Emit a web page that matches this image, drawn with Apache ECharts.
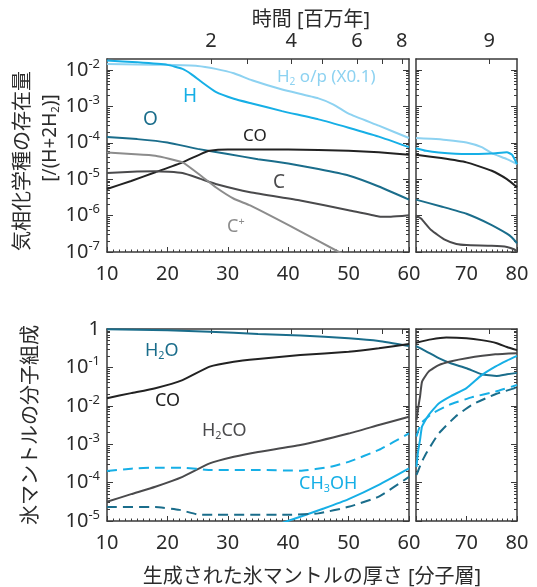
<!DOCTYPE html>
<html>
<head>
<meta charset="utf-8">
<script src="https://cdn.jsdelivr.net/npm/echarts@6/dist/echarts.min.js"></script>
<style>
  html, body { margin: 0; padding: 0; background: #fff; }
  #chart { width: 537px; height: 587px; }
</style>
</head>
<body>
<div id="chart"></div>
<script>
// ---- gas phase (top row), x = ice thickness [layers] ----
const h2opX = [10, 15, 20, 25, 28, 31, 34, 39, 45, 47.5, 50, 55, 60];
const h2opY = [1.45e-2, 1.41e-2, 1.38e-2, 1.29e-2, 1.07e-2, 8.1e-3, 5.2e-3, 2.9e-3, 1.66e-3, 1.12e-3, 6.3e-4, 2.95e-4, 1.35e-4];
const hX = [10, 15, 20, 22.5, 24, 25.5, 28, 31, 34, 39, 45, 50, 55, 60];
const hY = [1.82e-2, 1.62e-2, 1.38e-2, 1.07e-2, 7.6e-3, 4.9e-3, 2.5e-3, 1.62e-3, 1.2e-3, 7.4e-4, 4.4e-4, 2.6e-4, 1.48e-4, 7.6e-5];
const oX = [10, 15, 20, 25, 30, 35, 40, 45, 50, 55, 60];
const oY = [1.45e-4, 1.26e-4, 1.02e-4, 6.8e-5, 4.9e-5, 3.55e-5, 2.7e-5, 1.9e-5, 1.26e-5, 6.3e-6, 2.75e-6];
const coX = [10, 14, 18, 22.5, 25.5, 27, 30, 40, 50, 55, 60];
const coY = [5.4e-6, 8.9e-6, 1.55e-5, 2.9e-5, 4.9e-5, 6.0e-5, 6.5e-5, 6.5e-5, 6.0e-5, 5.5e-5, 4.7e-5];
const cX = [10, 15, 18, 22.5, 25.5, 28, 33.7, 42, 50, 55, 57, 60];
const cY = [1.48e-5, 1.62e-5, 1.66e-5, 1.48e-5, 1.02e-5, 7.4e-6, 4.4e-6, 2.6e-6, 1.41e-6, 9.5e-7, 9.3e-7, 1.02e-6];
const cpX = [10, 14, 18, 22.5, 25.5, 28, 31, 33.7, 42, 48.4, 50];
const cpY = [5.4e-5, 4.9e-5, 4.4e-5, 2.9e-5, 1.26e-5, 6.0e-6, 2.9e-6, 1.9e-6, 3.7e-7, 1e-7, 7e-8];

const h2opX2 = [60, 63, 66, 70, 73, 75, 78, 80];
const h2opY2 = [1.35e-4, 1.29e-4, 1.2e-4, 1.02e-4, 7.6e-5, 5.2e-5, 3.55e-5, 2.6e-5];
const hX2 = [60, 62, 64.5, 70, 75, 78, 79, 80];
const hY2 = [7.1e-5, 6.0e-5, 5.4e-5, 4.9e-5, 5.1e-5, 5.5e-5, 4.7e-5, 2.6e-5];
const coX2 = [60, 65, 70, 75, 78, 80];
const coY2 = [4.7e-5, 3.8e-5, 2.9e-5, 1.7e-5, 1.0e-5, 6.0e-6];
const oX2 = [60, 65, 70, 75, 78, 79, 80];
const oY2 = [2.75e-6, 1.78e-6, 1.12e-6, 5.5e-7, 3.2e-7, 2.5e-7, 1.74e-7];
const cX2 = [60, 61, 63, 65.8, 68, 70, 75, 78, 79.5, 80];
const cY2 = [1.02e-6, 8.3e-7, 4.0e-7, 2.14e-7, 1.66e-7, 1.55e-7, 1.48e-7, 1.38e-7, 1.17e-7, 1.0e-7];

// ---- ice mantle (bottom row) ----
const h2oX = [10, 20, 27, 35, 42, 50, 55, 60];
const h2oY = [0.98, 0.93, 0.85, 0.74, 0.68, 0.575, 0.49, 0.36];
const coIceX = [10, 14, 18, 22.5, 27, 31, 35, 42, 50, 55, 60];
const coIceY = [0.0158, 0.0214, 0.0288, 0.0468, 0.105, 0.141, 0.166, 0.209, 0.257, 0.316, 0.407];
const h2coX = [10, 14, 18, 22.5, 27, 31, 35, 42, 50, 55, 60];
const h2coY = [3.16e-5, 5.0e-5, 7.8e-5, 1.41e-4, 3.16e-4, 4.7e-4, 6.3e-4, 9.5e-4, 1.9e-3, 3.16e-3, 5.2e-3];
const meohX = [38, 42, 46, 50, 55, 60];
const meohY = [7.9e-6, 1.29e-5, 2.14e-5, 3.7e-5, 8.7e-5, 2.34e-4];
const dashLX = [10, 14, 18, 22.5, 27, 35, 42, 47, 50, 55, 60];
const dashLY = [2.0e-4, 2.3e-4, 2.45e-4, 2.45e-4, 2.14e-4, 2.14e-4, 2.04e-4, 2.57e-4, 3.47e-4, 7.1e-4, 1.9e-3];
const dashDX = [10, 18, 22, 25, 27, 40, 45, 50, 55, 60];
const dashDY = [2.3e-5, 2.3e-5, 1.95e-5, 1.48e-5, 1.45e-5, 1.45e-5, 1.58e-5, 2.34e-5, 4.3e-5, 1.41e-4];

const h2oX2 = [60, 62, 64.5, 67, 70, 73, 76, 78, 80];
const h2oY2 = [0.36, 0.263, 0.174, 0.126, 0.095, 0.066, 0.060, 0.066, 0.072];
const coIceX2 = [60, 63, 66, 70, 73, 76, 78, 80];
const coIceY2 = [0.437, 0.537, 0.60, 0.575, 0.513, 0.427, 0.339, 0.282];
const h2coX2 = [60.1, 60.5, 60.8, 61.2, 62.5, 64.5, 67, 70, 75.7, 80];
const h2coY2 = [4.3e-3, 0.01, 0.0174, 0.0427, 0.0776, 0.115, 0.145, 0.174, 0.219, 0.234];
const meohX2 = [60.1, 60.4, 60.8, 61.2, 62.5, 64.5, 67, 70, 73, 75.7, 78, 80];
const meohY2 = [2.57e-4, 6.3e-4, 1.29e-3, 2.9e-3, 5.75e-3, 0.0115, 0.0182, 0.0288, 0.063, 0.105, 0.151, 0.20];
const dashLX2 = [60.1, 61, 63.2, 66.5, 71, 75.7, 80];
const dashLY2 = [1.58e-3, 3.47e-3, 6.3e-3, 0.0105, 0.0166, 0.0234, 0.0347];
const dashDX2 = [60.1, 61, 62, 64.5, 67.8, 71, 75.7, 80];
const dashDY2 = [1.58e-4, 3.16e-4, 5.75e-4, 1.9e-3, 5.2e-3, 0.0105, 0.02, 0.030];

// top time axis [Myr]: tick positions in layer units, and labels
const timeTickPos = [27.2, 33.3, 40.5, 45.6, 51.4, 55.5, 58.8];
const timeLabelPos = [27.2, 40.5, 51.4, 58.8];
const timeLabels = ['2', '4', '6', '8'];
const timeTickPos2 = [74.5];
const timeLabels2 = ['9'];

const gasDecades = [1e-7, 1e-6, 1e-5, 1e-4, 1e-3, 1e-2];
const iceDecades = [1e-5, 1e-4, 1e-3, 1e-2, 1e-1, 1];

const FONT = "'Noto Sans', 'Noto Sans CJK JP', sans-serif";
const AX = '#3a3a3a';
const TXT = '#2b2b2b';

function minorsOf(decades) {
  const out = [];
  decades.slice(0, -1).forEach(d => {
    for (let k = 2; k <= 9; k++) out.push(+(d * k).toPrecision(3));
  });
  return out;
}

function zip(xs, ys) { return xs.map((x, i) => [x, ys[i]]); }

const grids = [
  { left: 107, top: 59, width: 302, height: 193 },
  { left: 416, top: 59, width: 101, height: 193 },
  { left: 107, top: 329, width: 302, height: 192 },
  { left: 416, top: 329, width: 101, height: 192 }
].map(g => Object.assign({ outerBoundsMode: 'none', containLabel: false }, g));

function powLabel(value) {
  const e = Math.round(Math.log10(value));
  if (e === 0) return '{b|1}';
  return '{b|10}{s|' + e + '}';
}

const labelRich = {
  b: { fontSize: 20, fontFamily: FONT, color: TXT },
  s: { fontSize: 13, fontFamily: FONT, color: TXT, padding: [0, 0, 12, 0] }
};

const xAxis = [];
const yAxis = [];
grids.forEach((g, gi) => {
  const right = gi % 2 === 1;
  const topRow = gi < 2;
  xAxis.push({
    gridIndex: gi, type: 'value', position: 'bottom',
    min: right ? 60 : 10, max: right ? 80 : 60, interval: 10,
    axisLine: { lineStyle: { color: AX, width: 1.5 } },
    axisTick: { inside: true, length: 5, lineStyle: { color: AX } },
    minorTick: { show: true, splitNumber: 10, length: 2.5, lineStyle: { color: AX } },
    splitLine: { show: false },
    axisLabel: {
      margin: 12, fontSize: 20, fontFamily: FONT, color: TXT,
      formatter: v => (right && v === 60) ? '' : String(v)
    }
  });
  xAxis.push({
    gridIndex: gi, type: 'value', position: 'top',
    min: right ? 60 : 10, max: right ? 80 : 60,
    axisLine: { lineStyle: { color: AX, width: 1.5 } },
    axisTick: { inside: true, length: 5, lineStyle: { color: AX }, customValues: right ? timeTickPos2 : timeTickPos },
    splitLine: { show: false },
    axisLabel: {
      show: topRow, margin: 8, fontSize: 20, fontFamily: FONT, color: TXT,
      customValues: right ? timeTickPos2 : timeLabelPos,
      formatter: v => right ? timeLabels2[0] : (timeLabels[timeLabelPos.indexOf(v)] || '')
    }
  });
  const dec = topRow ? gasDecades : iceDecades;
  const ymin = topRow ? 1e-7 : 1e-5;
  const ymax = topRow ? 0.02 : 1;
  ['left', 'right'].forEach(pos => {
    yAxis.push({
      gridIndex: gi, type: 'log', logBase: 10, position: pos, min: ymin, max: ymax,
      axisLine: { show: true, lineStyle: { color: AX, width: 1.5 } },
      axisTick: { inside: true, length: 6, lineStyle: { color: AX }, customValues: dec },
      splitLine: { show: false },
      axisLabel: {
        show: pos === 'left' && !right, margin: 7, customValues: dec,
        formatter: powLabel, rich: labelRich
      }
    });
    yAxis.push({
      gridIndex: gi, type: 'log', logBase: 10, position: pos, min: ymin, max: ymax,
      axisLine: { show: false },
      axisTick: { inside: true, length: 3, lineStyle: { color: AX }, customValues: minorsOf(dec) },
      splitLine: { show: false },
      axisLabel: { show: false }
    });
  });
});

function line(gi, xs, ys, color, width, dashed) {
  return {
    type: 'line', xAxisIndex: gi * 2, yAxisIndex: gi * 4,
    data: zip(xs, ys), showSymbol: false, smooth: 0.15, clip: true,
    lineStyle: { color: color, width: width || 2, type: dashed ? [10, 6] : 'solid' },
    silent: true, animation: false
  };
}

const C_LIGHT = '#8dd2f1';
const C_BLUE = '#16afe6';
const C_TEAL = '#1a6d8b';
const C_BLACK = '#222222';
const C_DGRAY = '#4a4a4c';
const C_GRAY = '#8c8c8c';

const series = [
  line(0, h2opX, h2opY, C_LIGHT), line(0, hX, hY, C_BLUE), line(0, oX, oY, C_TEAL),
  line(0, coX, coY, C_BLACK), line(0, cX, cY, C_DGRAY), line(0, cpX, cpY, C_GRAY),
  line(1, h2opX2, h2opY2, C_LIGHT), line(1, hX2, hY2, C_BLUE), line(1, oX2, oY2, C_TEAL),
  line(1, coX2, coY2, C_BLACK), line(1, cX2, cY2, C_DGRAY),
  line(2, h2oX, h2oY, C_TEAL), line(2, coIceX, coIceY, C_BLACK), line(2, h2coX, h2coY, C_DGRAY),
  line(2, meohX, meohY, C_BLUE), line(2, dashLX, dashLY, C_BLUE, 2, true), line(2, dashDX, dashDY, C_TEAL, 2, true),
  line(3, h2oX2, h2oY2, C_TEAL), line(3, coIceX2, coIceY2, C_BLACK), line(3, h2coX2, h2coY2, C_DGRAY),
  line(3, meohX2, meohY2, C_BLUE), line(3, dashLX2, dashLY2, C_BLUE, 2, true), line(3, dashDX2, dashDY2, C_TEAL, 2, true)
];

// rich styles for graphic text use zrender's `fill`
function subRich(color, size) {
  return {
    n: { fontSize: size, fontFamily: FONT, fill: color },
    d: { fontSize: size * 0.6, fontFamily: FONT, fill: color, padding: [size * 0.55, 0, 0, 0] },
    u: { fontSize: size * 0.6, fontFamily: FONT, fill: color, padding: [0, 0, size * 0.55, 0] }
  };
}

function tag(x, y, text, color, size, align) {
  return {
    type: 'text', x: x, y: y, silent: true,
    style: { text: text, rich: subRich(color, size || 18), fill: color, textAlign: align || 'left', textVerticalAlign: 'middle' }
  };
}

const graphic = [
  { type: 'text', x: 311, y: 20, silent: true,
    style: { text: '時間 [百万年]', font: '20px ' + FONT, fill: TXT, textAlign: 'center', textVerticalAlign: 'middle' } },
  { type: 'text', x: 23, y: 161, rotation: Math.PI / 2, silent: true,
    style: { text: '気相化学種の存在量', font: '20px ' + FONT, fill: TXT, textAlign: 'center', textVerticalAlign: 'middle' } },
  { type: 'text', x: 51, y: 138, rotation: Math.PI / 2, silent: true,
    style: { text: '{n|[/(H+2H}{d|2}{n|)]}', rich: subRich(TXT, 19), fill: TXT, textAlign: 'center', textVerticalAlign: 'middle' } },
  { type: 'text', x: 31, y: 425, rotation: Math.PI / 2, silent: true,
    style: { text: '氷マントルの分子組成', font: '20px ' + FONT, fill: TXT, textAlign: 'center', textVerticalAlign: 'middle' } },
  { type: 'text', x: 312, y: 577, silent: true,
    style: { text: '生成された氷マントルの厚さ [分子層]', font: '20px ' + FONT, fill: TXT, textAlign: 'center', textVerticalAlign: 'middle' } },
  tag(277, 77, '{n|H}{d|2}{n| o/p (X0.1)}', C_LIGHT, 17),
  tag(183, 97, '{n|H}', C_BLUE, 19),
  tag(143, 120, '{n|O}', C_TEAL, 19),
  tag(243, 136, '{n|CO}', C_BLACK, 17),
  tag(273, 183, '{n|C}', C_DGRAY, 19),
  tag(227, 227, '{n|C}{u|+}', C_GRAY, 18),
  tag(145, 351, '{n|H}{d|2}{n|O}', C_TEAL, 18),
  tag(155, 401, '{n|CO}', C_BLACK, 18),
  tag(202, 431, '{n|H}{d|2}{n|CO}', C_DGRAY, 18),
  tag(299, 484, '{n|CH}{d|3}{n|OH}', C_BLUE, 18)
];

const chart = echarts.init(document.getElementById('chart'), null, { renderer: 'canvas' });
chart.setOption({
  animation: false,
  backgroundColor: '#fff',
  grid: grids,
  xAxis: xAxis,
  yAxis: yAxis,
  series: series,
  graphic: graphic
});
</script>
</body>
</html>
